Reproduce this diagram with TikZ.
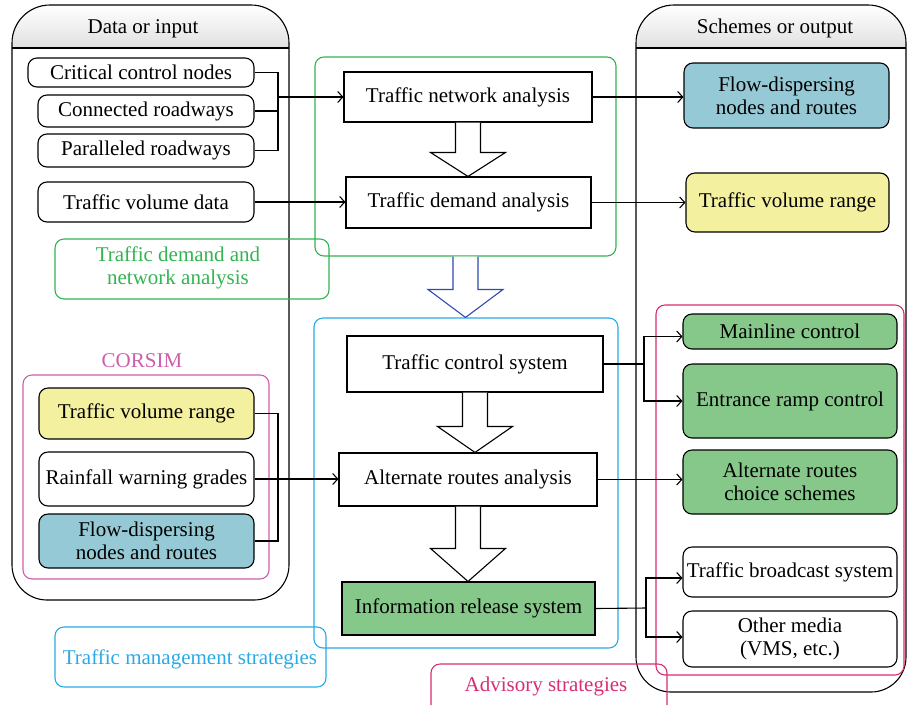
\documentclass[tikz,border=0pt]{standalone}
\usepackage{fontspec}
\setmainfont{Liberation Serif}
\usetikzlibrary{arrows.meta,calc}
\definecolor{fillgreen}{RGB}{133,200,137}
\definecolor{fillblue}{RGB}{148,201,213}
\definecolor{fillyellow}{RGB}{243,240,160}
\definecolor{grpgreen}{RGB}{50,180,80}
\definecolor{grpblue}{RGB}{40,170,230}
\definecolor{arrblue}{RGB}{45,75,175}
\definecolor{corsimc}{RGB}{205,95,170}
\definecolor{advis}{RGB}{215,45,115}
\newcommand{\blockarr}[4]{%
 \draw[line width=1.1pt, #3, fill=white, line join=miter]
 ($(#1.south)+(-12.5,0)$) -- ($(#1.south |- #2.north)+(-12.5,-#4)$) -- ($(#1.south |- #2.north)+(-37.5,-#4)$)
 -- (#1.south |- #2.north) -- ($(#1.south |- #2.north)+(37.5,-#4)$) -- ($(#1.south |- #2.north)+(12.5,-#4)$)
 -- ($(#1.south)+(12.5,0)$);}
\begin{document}
\begin{tikzpicture}[x=1pt,y=-1pt,
 every node/.style={font=\fontsize{21}{23}\selectfont},
 rbox/.style={draw, rounded corners=9pt, line width=1.1pt, align=center, inner sep=0pt},
 sbox/.style={draw, line width=1.1pt, align=center, inner sep=0pt},
 conn/.style={line width=1.1pt},
 arr/.style={conn, -{Straight Barb[length=5pt,width=11pt]}},
 grp/.style={draw, rounded corners=9pt, line width=1.1pt, inner sep=0pt}
]
\useasboundingbox (0,0) rectangle (907,705);
% containers
\shade[top color=white, bottom color=black!12] (12,48) [rounded corners=38pt] |- (150,5) -| (289,48);
\draw[line width=1.1pt] (12,48) [rounded corners=38pt] |- (150,5) -| (289,48);
\draw[line width=1.1pt] (12,48) [rounded corners=35pt] |- (150,600) -| (289,48);
\draw[line width=1.1pt] (12,48) -- (289,48);
\node[anchor=base] (hin) at (143,33) {Data or input};

\shade[top color=white, bottom color=black!12] (636,48) [rounded corners=38pt] |- (770,5) -| (906,48);
\draw[line width=1.1pt] (636,48) [rounded corners=38pt] |- (770,5) -| (906,48);
\draw[line width=1.1pt] (636,48) [rounded corners=35pt] |- (770,692) -| (906,48);
\draw[line width=1.1pt] (636,48) -- (906,48);
\node[anchor=base] (hout) at (775,33) {Schemes or output};

% group boxes
\node[grp, grpgreen, minimum width=301pt, minimum height=199pt] (grpG) at (465.5,156.5) {};
\node[grp, grpgreen, minimum width=274pt, minimum height=60pt] (lblG) at (192,269) {};
\node[text=grpgreen, align=center] (tG) at (178,268) {Traffic demand and\\network analysis};
\node[grp, grpblue, minimum width=304pt, minimum height=330pt] (grpB) at (466,483) {};
\node[grp, grpblue, minimum width=271pt, minimum height=60pt] (lblB) at (190.5,657) {};
\node[text=grpblue] (tB) at (190,659) {Traffic management strategies};
\node[grp, corsimc, minimum width=246pt, minimum height=204pt] (grpC) at (146,477) {};
\node[text=corsimc] (tC) at (142,361) {CORSIM};
\node[grp, advis, minimum width=248pt, minimum height=370pt] (grpA) at (780,490) {};
\draw[advis, line width=1.1pt] (431,705) [rounded corners=9pt] |- (549,664) -| (667,705);
\node[text=advis] (tA) at (546,686) {Advisory strategies};

% input nodes
\node[rbox, fill=white, minimum width=226pt, minimum height=29pt] (ccn) at (141,72.5) {Critical control nodes};
\node[rbox, fill=white, minimum width=216pt, minimum height=32pt] (con) at (146,111) {Connected roadways};
\node[rbox, fill=white, minimum width=216pt, minimum height=33pt] (par) at (146,150.5) {Paralleled roadways};
\node[rbox, fill=white, minimum width=216pt, minimum height=40pt] (tvd) at (146,202) {Traffic volume data};
\node[rbox, fill=fillyellow, minimum width=215pt, minimum height=51pt] (tvr) at (146.5,413.5) {Traffic volume range};
\node[rbox, fill=white, minimum width=215pt, minimum height=54pt] (rwg) at (146.5,479) {Rainfall warning grades};
\node[rbox, fill=fillblue, minimum width=215pt, minimum height=54pt] (fdn) at (146.5,541) {Flow-dispersing\\nodes and routes};

% middle nodes
\node[sbox, fill=white, minimum width=248pt, minimum height=50pt] (tna) at (468,97) {Traffic network analysis};
\node[sbox, fill=white, minimum width=245pt, minimum height=51pt] (tda) at (468.5,202.5) {Traffic demand analysis};
\node[sbox, fill=white, minimum width=256pt, minimum height=56pt] (tcs) at (475,364) {Traffic control system};
\node[sbox, fill=white, minimum width=258pt, minimum height=53pt] (ara) at (468,479.5) {Alternate routes analysis};
\node[sbox, fill=fillgreen, minimum width=253pt, minimum height=53pt] (irs) at (468.5,608.5) {Information release system};

% output nodes
\node[rbox, fill=fillblue, minimum width=205pt, minimum height=65pt] (fdo) at (786.5,95.5) {Flow-dispersing\\nodes and routes};
\node[rbox, fill=fillyellow, minimum width=203pt, minimum height=59pt] (tvo) at (787.5,202.5) {Traffic volume range};
\node[rbox, fill=fillgreen, minimum width=214pt, minimum height=35pt] (mlc) at (790,331.5) {Mainline control};
\node[rbox, fill=fillgreen, minimum width=214pt, minimum height=74pt] (erc) at (790,401) {Entrance ramp control};
\node[rbox, fill=fillgreen, minimum width=214pt, minimum height=64pt] (arc) at (790,482) {Alternate routes\\choice schemes};
\node[rbox, fill=white, minimum width=214pt, minimum height=50pt] (tbs) at (790,572) {Traffic broadcast system};
\node[rbox, fill=white, minimum width=214pt, minimum height=56pt] (om) at (790,639) {Other media\\(VMS, etc.)};

% block arrows
\blockarr{tna}{tda}{black}{24}
\blockarr{tcs}{ara}{black}{26}
\blockarr{ara}{irs}{black}{33}
\blockarr{grpG}{grpB}{arrblue}{28}

% junction coordinates
\coordinate (jA) at (278,97);
\coordinate (jC) at (278,479);
\coordinate (jR1) at (644,364);
\coordinate (jR2) at (646,608);

% connectors
\draw[conn] (ccn.east) -| (jA);
\draw[conn] (par.east) -| (jA);
\draw[conn] (con.east) -- (con.east -| jA);
\draw[arr] (jA) -- (tna.west |- jA);
\draw[arr] (tvd.east) -- (tda.west |- tvd.east);
\draw[arr] (tna.east) -- (fdo.west |- tna.east);
\draw[arr] (tda.east) -- (tvo.west |- tda.east);

\draw[conn] (tvr.east) -| (jC);
\draw[conn] (fdn.east) -| (jC);
\draw[arr] (rwg.east) -- (ara.west |- rwg.east);

\draw[conn] (tcs.east) -- (jR1);
\draw[arr] (jR1) |- ($(mlc.west)+(0,5)$);
\draw[arr] (jR1) |- (erc.west);
\draw[arr] (ara.east) -- (arc.west |- ara.east);
\draw[conn] (irs.east) -- (jR2);
\draw[arr] (jR2) |- ($(tbs.west)+(0,6)$);
\draw[arr] (jR2) |- ($(om.west)+(0,-2)$);
\end{tikzpicture}
\end{document}
